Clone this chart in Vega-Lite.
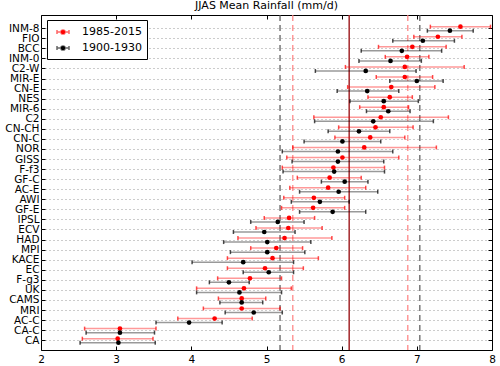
{
  "$schema": "https://vega.github.io/schema/vega-lite/v6.json",
  "width": 451,
  "height": 335,
  "autosize": "none",
  "padding": {"left": 41, "top": 15, "right": 8, "bottom": 16},
  "title": {"text": "JJAS Mean Rainfall (mm/d)", "fontSize": 11, "fontWeight": "normal", "font": "DejaVu Sans", "color": "black", "offset": 3},
  "config": {
    "font": "DejaVu Sans",
    "view": {"stroke": "black", "strokeWidth": 1},
    "axis": {"labelFont": "DejaVu Sans", "labelFontSize": 10.5, "labelColor": "black", "tickColor": "black", "domain": false, "title": null}
  },
  "datasets": {
    "refs": [
      {"series": "observed", "value": 6.1},
      {"series": "1900-1930", "value": 5.18},
      {"series": "1900-1930", "value": 7.04},
      {"series": "1985-2015", "value": 5.35},
      {"series": "1985-2015", "value": 6.88}
    ],
    "rows": [
      {"m": "INM-8", "p": "1985-2015", "mean": 7.58, "lo": 7.18, "hi": 7.98},
      {"m": "INM-8", "p": "1900-1930", "mean": 7.44, "lo": 7.14, "hi": 7.75},
      {"m": "FIO", "p": "1985-2015", "mean": 7.28, "lo": 6.96, "hi": 7.60},
      {"m": "FIO", "p": "1900-1930", "mean": 7.08, "lo": 6.68, "hi": 7.50},
      {"m": "BCC", "p": "1985-2015", "mean": 6.94, "lo": 6.49, "hi": 7.39},
      {"m": "BCC", "p": "1900-1930", "mean": 6.80, "lo": 6.26, "hi": 7.33},
      {"m": "INM-0", "p": "1985-2015", "mean": 6.87, "lo": 6.58, "hi": 7.16},
      {"m": "INM-0", "p": "1900-1930", "mean": 6.65, "lo": 6.23, "hi": 7.06},
      {"m": "C2-W", "p": "1985-2015", "mean": 6.84, "lo": 6.05, "hi": 7.63},
      {"m": "C2-W", "p": "1900-1930", "mean": 6.32, "lo": 5.65, "hi": 6.99},
      {"m": "MIR-E", "p": "1985-2015", "mean": 6.84, "lo": 6.46, "hi": 7.21},
      {"m": "MIR-E", "p": "1900-1930", "mean": 7.00, "lo": 6.64, "hi": 7.35},
      {"m": "CN-E", "p": "1985-2015", "mean": 6.66, "lo": 6.08, "hi": 7.24},
      {"m": "CN-E", "p": "1900-1930", "mean": 6.34, "lo": 5.94, "hi": 6.76},
      {"m": "NES", "p": "1985-2015", "mean": 6.64, "lo": 6.35, "hi": 6.94},
      {"m": "NES", "p": "1900-1930", "mean": 6.56, "lo": 6.11, "hi": 7.02},
      {"m": "MIR-6", "p": "1985-2015", "mean": 6.56, "lo": 6.24, "hi": 6.89},
      {"m": "MIR-6", "p": "1900-1930", "mean": 6.62, "lo": 6.33, "hi": 6.91},
      {"m": "C2", "p": "1985-2015", "mean": 6.52, "lo": 5.63, "hi": 7.42},
      {"m": "C2", "p": "1900-1930", "mean": 6.42, "lo": 5.64, "hi": 7.22},
      {"m": "CN-CH", "p": "1985-2015", "mean": 6.45, "lo": 5.96, "hi": 6.95},
      {"m": "CN-CH", "p": "1900-1930", "mean": 6.23, "lo": 5.82, "hi": 6.64},
      {"m": "CN-C", "p": "1985-2015", "mean": 6.38, "lo": 5.91, "hi": 6.84},
      {"m": "CN-C", "p": "1900-1930", "mean": 6.01, "lo": 5.50, "hi": 6.52},
      {"m": "NOR", "p": "1985-2015", "mean": 6.30, "lo": 5.35, "hi": 7.26},
      {"m": "NOR", "p": "1900-1930", "mean": 5.95, "lo": 5.21, "hi": 6.68},
      {"m": "GISS", "p": "1985-2015", "mean": 6.01, "lo": 5.27, "hi": 6.76},
      {"m": "GISS", "p": "1900-1930", "mean": 5.95, "lo": 5.34, "hi": 6.56},
      {"m": "F-f3", "p": "1985-2015", "mean": 5.89, "lo": 5.21, "hi": 6.57},
      {"m": "F-f3", "p": "1900-1930", "mean": 5.90, "lo": 5.22, "hi": 6.57},
      {"m": "GF-C", "p": "1985-2015", "mean": 5.84, "lo": 5.41, "hi": 6.26},
      {"m": "GF-C", "p": "1900-1930", "mean": 6.04, "lo": 5.73, "hi": 6.35},
      {"m": "AC-E", "p": "1985-2015", "mean": 5.82, "lo": 5.31, "hi": 6.32},
      {"m": "AC-E", "p": "1900-1930", "mean": 5.96, "lo": 5.44, "hi": 6.48},
      {"m": "AWI", "p": "1985-2015", "mean": 5.63, "lo": 5.23, "hi": 6.04},
      {"m": "AWI", "p": "1900-1930", "mean": 5.71, "lo": 5.33, "hi": 6.10},
      {"m": "GF-E", "p": "1985-2015", "mean": 5.62, "lo": 5.20, "hi": 6.04},
      {"m": "GF-E", "p": "1900-1930", "mean": 5.88, "lo": 5.44, "hi": 6.32},
      {"m": "IPSL", "p": "1985-2015", "mean": 5.30, "lo": 4.97, "hi": 5.64},
      {"m": "IPSL", "p": "1900-1930", "mean": 5.15, "lo": 4.79, "hi": 5.50},
      {"m": "ECV", "p": "1985-2015", "mean": 5.29, "lo": 4.86, "hi": 5.74},
      {"m": "ECV", "p": "1900-1930", "mean": 4.97, "lo": 4.56, "hi": 5.38},
      {"m": "HAD", "p": "1985-2015", "mean": 5.24, "lo": 4.62, "hi": 5.87},
      {"m": "HAD", "p": "1900-1930", "mean": 5.01, "lo": 4.43, "hi": 5.59},
      {"m": "MPI", "p": "1985-2015", "mean": 5.13, "lo": 4.79, "hi": 5.48},
      {"m": "MPI", "p": "1900-1930", "mean": 5.01, "lo": 4.52, "hi": 5.51},
      {"m": "KACE", "p": "1985-2015", "mean": 5.08, "lo": 4.48, "hi": 5.69},
      {"m": "KACE", "p": "1900-1930", "mean": 4.69, "lo": 4.01, "hi": 5.36},
      {"m": "EC", "p": "1985-2015", "mean": 4.98, "lo": 4.48, "hi": 5.49},
      {"m": "EC", "p": "1900-1930", "mean": 5.03, "lo": 4.69, "hi": 5.36},
      {"m": "F-g3", "p": "1985-2015", "mean": 4.78, "lo": 4.35, "hi": 5.20},
      {"m": "F-g3", "p": "1900-1930", "mean": 4.50, "lo": 4.24, "hi": 4.77},
      {"m": "UK", "p": "1985-2015", "mean": 4.70, "lo": 4.07, "hi": 5.33},
      {"m": "UK", "p": "1900-1930", "mean": 4.64, "lo": 4.07, "hi": 5.20},
      {"m": "CAMS", "p": "1985-2015", "mean": 4.67, "lo": 4.36, "hi": 4.99},
      {"m": "CAMS", "p": "1900-1930", "mean": 4.67, "lo": 4.38, "hi": 4.95},
      {"m": "MRI", "p": "1985-2015", "mean": 4.67, "lo": 4.16, "hi": 5.18},
      {"m": "MRI", "p": "1900-1930", "mean": 4.83, "lo": 4.45, "hi": 5.21},
      {"m": "AC-C", "p": "1985-2015", "mean": 4.31, "lo": 3.82, "hi": 4.81},
      {"m": "AC-C", "p": "1900-1930", "mean": 3.97, "lo": 3.53, "hi": 4.41},
      {"m": "CA-C", "p": "1985-2015", "mean": 3.05, "lo": 2.58, "hi": 3.53},
      {"m": "CA-C", "p": "1900-1930", "mean": 3.05, "lo": 2.60, "hi": 3.51},
      {"m": "CA", "p": "1985-2015", "mean": 3.02, "lo": 2.55, "hi": 3.49},
      {"m": "CA", "p": "1900-1930", "mean": 3.03, "lo": 2.52, "hi": 3.52}
    ]
  },
  "layer": [
    {
      "data": {"name": "refs"},
      "transform": [{"filter": "datum.series == 'observed'"}],
      "mark": {"type": "rule", "color": "#a3262a", "strokeWidth": 1.5},
      "encoding": {"x": {"field": "value", "type": "quantitative", "scale": {"domain": [2, 8], "nice": false, "zero": false}, "axis": {"orient": "top", "values": [2, 3, 4, 5, 6, 7, 8], "labels": false, "tickSize": -4, "grid": false}}}
    },
    {
      "data": {"name": "refs"},
      "transform": [{"filter": "datum.series == '1900-1930'"}],
      "mark": {"type": "rule", "color": "#555555", "strokeWidth": 1.2, "strokeDash": [6, 4]},
      "encoding": {"x": {"field": "value", "type": "quantitative", "axis": null}}
    },
    {
      "data": {"name": "refs"},
      "transform": [{"filter": "datum.series == '1985-2015'"}],
      "mark": {"type": "rule", "color": "#ff7f7f", "strokeWidth": 1.2, "strokeDash": [6, 4]},
      "encoding": {"x": {"field": "value", "type": "quantitative", "axis": null}}
    },
    {
      "data": {"name": "rows"},
      "encoding": {
        "y": {"field": "m", "type": "nominal", "sort": null, "scale": {"paddingInner": 0, "paddingOuter": 0.642, "align": 0.67}, "axis": null},
        "yOffset": {"field": "p", "type": "nominal", "sort": ["1985-2015", "1900-1930"], "scale": {"paddingInner": 0, "paddingOuter": 0.25}},
        "color": {"field": "p", "type": "nominal", "scale": {"domain": ["1985-2015", "1900-1930"], "range": ["#ff0000", "#000000"]}, "legend": {
          "title": null, "orient": "none", "legendX": 6, "legendY": 5, "padding": 5,
          "fillColor": "white", "strokeColor": "black", "cornerRadius": 0,
          "labelFontSize": 11, "labelFont": "DejaVu Sans", "labelColor": "black",
          "rowPadding": 3, "symbolOffset": 4, "labelOffset": 12,
          "symbolType": "M-1,0H1M-1,-0.35V0.35M1,-0.35V0.35M-0.35,0A0.35,0.35 0 1,0 0.35,0A0.35,0.35 0 1,0 -0.35,0Z",
          "symbolSize": 144, "symbolStrokeWidth": 1.5,
          "encode": {"symbols": {"update": {"stroke": {"scale": "color", "field": "value"}, "strokeOpacity": {"value": 0.6}, "fill": {"scale": "color", "field": "value"}, "fillOpacity": {"value": 1}}}}
        }}
      },
      "layer": [
        {
          "mark": {"type": "rule", "strokeWidth": 1.5, "opacity": 0.4},
          "encoding": {
            "x": {"field": "lo", "type": "quantitative", "axis": null},
            "x2": {"field": "hi"}
          }
        },
        {
          "transform": [{"fold": ["lo", "hi"], "as": ["end", "val"]}],
          "mark": {"type": "tick", "size": 4, "thickness": 1.5, "opacity": 0.7},
          "encoding": {
            "x": {"field": "val", "type": "quantitative", "axis": null}
          }
        },
        {
          "mark": {"type": "circle", "size": 22, "opacity": 1},
          "encoding": {
            "x": {"field": "mean", "type": "quantitative", "axis": {"orient": "bottom", "values": [2, 3, 4, 5, 6, 7, 8], "format": "d", "tickSize": -4, "labelPadding": 8, "labelFlush": false, "grid": false}},
            "y": {"field": "m", "type": "nominal", "sort": null, "axis": {"orient": "left", "tickSize": -4, "labelPadding": 6, "grid": true, "gridDash": [1, 3], "gridColor": "#999999", "bandPosition": 0.5}}
          }
        },
        {
          "mark": {"type": "tick", "opacity": 0},
          "encoding": {
            "x": {"field": "mean", "type": "quantitative", "axis": null},
            "y": {"field": "m", "type": "nominal", "sort": null, "axis": {"orient": "right", "labels": false, "tickSize": -4, "grid": false, "bandPosition": 0.5}}
          }
        }
      ],
      "resolve": {"axis": {"x": "independent", "y": "independent"}}
    }
  ],
  "resolve": {"axis": {"x": "independent", "y": "independent"}}
}
